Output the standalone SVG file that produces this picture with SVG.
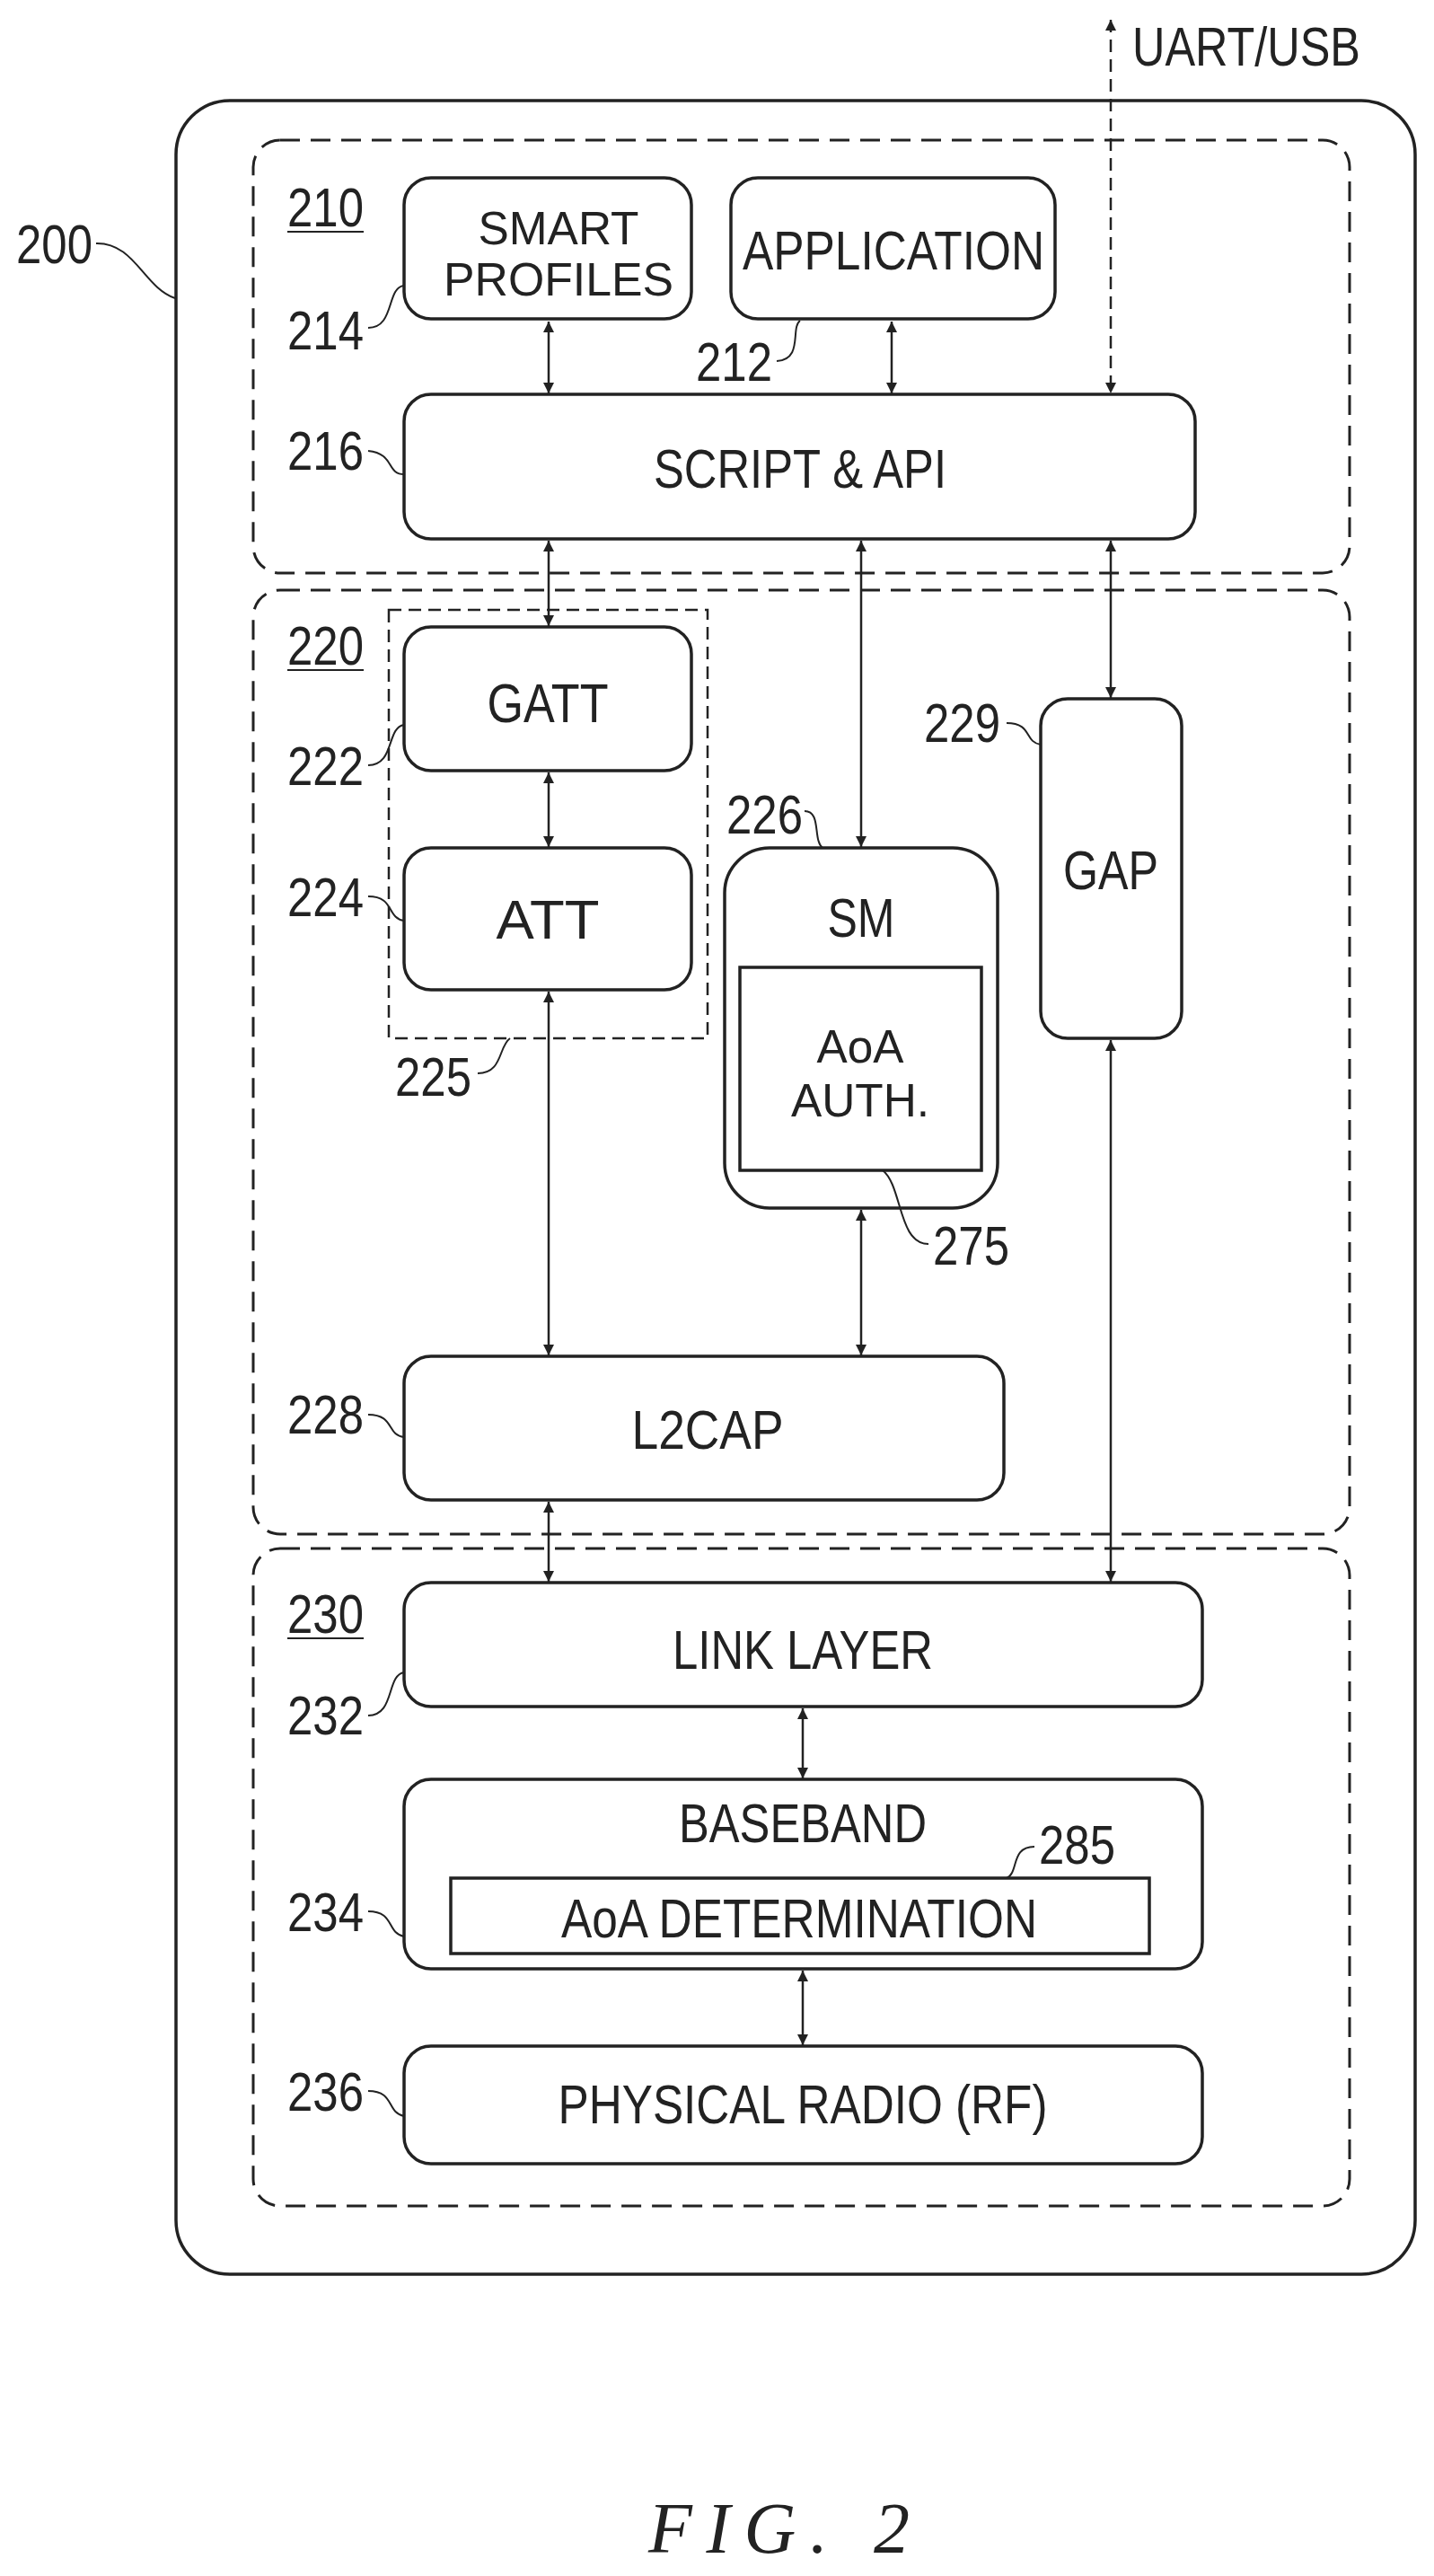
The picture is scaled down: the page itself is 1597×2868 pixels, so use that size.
<svg xmlns="http://www.w3.org/2000/svg" width="1597" height="2868" viewBox="0 0 1597 2868">
<style>
.b{fill:none;stroke:#222;stroke-width:3.5}
.d{fill:none;stroke:#222;stroke-width:3;stroke-dasharray:22 12}
.d2{fill:none;stroke:#222;stroke-width:2.5;stroke-dasharray:14 8}
.l{fill:none;stroke:#222;stroke-width:2}
.c{stroke:#222;stroke-width:2.5;fill:none;marker-start:url(#a);marker-end:url(#a)}
text{font-family:"Liberation Sans",Arial,sans-serif;font-size:62px;fill:#222}
.m{text-anchor:middle}
.s{font-size:52px}
</style>
<defs>
<marker id="a" viewBox="0 0 10 10" refX="10" refY="5" markerWidth="16" markerHeight="12" orient="auto-start-reverse" markerUnits="userSpaceOnUse"><path d="M0,0 L10,5 L0,10 Z" fill="#222"/></marker>
</defs>
<rect width="1597" height="2868" fill="#fff"/>
<g id="n200"><rect class="b" x="196" y="112" width="1380" height="2420" rx="60"/><text x="18" y="293" textLength="85" lengthAdjust="spacingAndGlyphs">200</text><path class="l" d="M107,271 C150,270 160,320 195,332"/></g>
<g id="n210"><rect class="d" x="282" y="156" width="1221" height="482" rx="30"/><text x="320" y="252" textLength="85" lengthAdjust="spacingAndGlyphs">210</text><line class="l" x1="320" y1="258" x2="405" y2="258"/></g>
<g id="n214"><rect class="b" x="450" y="198" width="320" height="157" rx="30"/><text class="m s" x="622" y="272" textLength="179" lengthAdjust="spacingAndGlyphs">SMART</text><text class="m s" x="622" y="329" textLength="256" lengthAdjust="spacingAndGlyphs">PROFILES</text><text x="320" y="389" textLength="85" lengthAdjust="spacingAndGlyphs">214</text><path class="l" d="M410,365 C440,365 430,320 450,318"/></g>
<g id="n212"><rect class="b" x="814" y="198" width="361" height="157" rx="30"/><text class="m" x="995" y="300" textLength="336" lengthAdjust="spacingAndGlyphs">APPLICATION</text><text x="775" y="424" textLength="85" lengthAdjust="spacingAndGlyphs">212</text><path class="l" d="M865,402 C895,400 880,365 891,357"/></g>
<g id="n216"><rect class="b" x="450" y="439" width="881" height="161" rx="30"/><text class="m" x="891" y="543" textLength="326" lengthAdjust="spacingAndGlyphs">SCRIPT &amp; API</text><text x="320" y="523" textLength="85" lengthAdjust="spacingAndGlyphs">216</text><path class="l" d="M410,502 C440,505 430,528 450,528"/></g>
<g id="n220"><rect class="d" x="282" y="657" width="1221" height="1051" rx="30"/><text x="320" y="740" textLength="85" lengthAdjust="spacingAndGlyphs">220</text><line class="l" x1="320" y1="746" x2="405" y2="746"/></g>
<g id="n225"><rect class="d2" x="433" y="679" width="355" height="477"/><text x="440" y="1220" textLength="85" lengthAdjust="spacingAndGlyphs">225</text><path class="l" d="M532,1195 C560,1195 555,1165 568,1156"/></g>
<g id="n222"><rect class="b" x="450" y="698" width="320" height="160" rx="30"/><text class="m" x="610" y="804" textLength="135" lengthAdjust="spacingAndGlyphs">GATT</text><text x="320" y="874" textLength="85" lengthAdjust="spacingAndGlyphs">222</text><path class="l" d="M410,852 C440,852 430,810 450,807"/></g>
<g id="n224"><rect class="b" x="450" y="944" width="320" height="158" rx="30"/><text class="m" x="610" y="1045" textLength="115" lengthAdjust="spacingAndGlyphs">ATT</text><text x="320" y="1020" textLength="85" lengthAdjust="spacingAndGlyphs">224</text><path class="l" d="M410,998 C440,998 430,1022 450,1025"/></g>
<g id="n226"><rect class="b" x="807" y="944" width="304" height="401" rx="50"/><text class="m" x="959" y="1043" textLength="75" lengthAdjust="spacingAndGlyphs">SM</text><text x="809" y="928" textLength="85" lengthAdjust="spacingAndGlyphs">226</text><path class="l" d="M896,903 C915,903 905,935 916,944"/></g>
<g id="n275"><rect class="b" x="824" y="1077" width="269" height="226"/><text class="m s" x="958" y="1183" textLength="97" lengthAdjust="spacingAndGlyphs">AoA</text><text class="m s" x="958" y="1243" textLength="154" lengthAdjust="spacingAndGlyphs">AUTH.</text><text x="1039" y="1408" textLength="85" lengthAdjust="spacingAndGlyphs">275</text><path class="l" d="M1034,1385 C1000,1385 1005,1320 983,1303"/></g>
<g id="n229"><rect class="b" x="1159" y="778" width="157" height="378" rx="30"/><text class="m" x="1237" y="990" textLength="106" lengthAdjust="spacingAndGlyphs">GAP</text><text x="1029" y="826" textLength="85" lengthAdjust="spacingAndGlyphs">229</text><path class="l" d="M1121,805 C1150,805 1140,826 1159,829"/></g>
<g id="n228"><rect class="b" x="450" y="1510" width="668" height="160" rx="30"/><text class="m" x="788" y="1613" textLength="169" lengthAdjust="spacingAndGlyphs">L2CAP</text><text x="320" y="1596" textLength="85" lengthAdjust="spacingAndGlyphs">228</text><path class="l" d="M410,1575 C440,1575 430,1598 450,1600"/></g>
<g id="n230"><rect class="d" x="282" y="1724" width="1221" height="732" rx="30"/><text x="320" y="1818" textLength="85" lengthAdjust="spacingAndGlyphs">230</text><line class="l" x1="320" y1="1824" x2="405" y2="1824"/></g>
<g id="n232"><rect class="b" x="450" y="1762" width="889" height="138" rx="30"/><text class="m" x="894" y="1858" textLength="290" lengthAdjust="spacingAndGlyphs">LINK LAYER</text><text x="320" y="1931" textLength="85" lengthAdjust="spacingAndGlyphs">232</text><path class="l" d="M410,1910 C440,1910 430,1865 450,1862"/></g>
<g id="n234"><rect class="b" x="450" y="1981" width="889" height="211" rx="30"/><text class="m" x="894" y="2051" textLength="276" lengthAdjust="spacingAndGlyphs">BASEBAND</text><text x="320" y="2150" textLength="85" lengthAdjust="spacingAndGlyphs">234</text><path class="l" d="M410,2128 C440,2128 430,2152 450,2156"/></g>
<g id="n285"><rect class="b" x="502" y="2091" width="778" height="84"/><text class="m" x="890" y="2157" textLength="530" lengthAdjust="spacingAndGlyphs">AoA DETERMINATION</text><text x="1157" y="2075" textLength="85" lengthAdjust="spacingAndGlyphs">285</text><path class="l" d="M1152,2056 C1125,2056 1135,2085 1121,2091"/></g>
<g id="n236"><rect class="b" x="450" y="2278" width="889" height="131" rx="30"/><text class="m" x="894" y="2364" textLength="545" lengthAdjust="spacingAndGlyphs">PHYSICAL RADIO (RF)</text><text x="320" y="2350" textLength="85" lengthAdjust="spacingAndGlyphs">236</text><path class="l" d="M410,2328 C440,2328 430,2352 450,2356"/></g>
<g id="connectors">
<line class="c" x1="611" y1="358" x2="611" y2="438"/>
<line class="c" x1="993" y1="358" x2="993" y2="438"/>
<line class="c" x1="1237" y1="22" x2="1237" y2="438" style="stroke-dasharray:14 8"/>
<line class="c" x1="611" y1="602" x2="611" y2="697"/>
<line class="c" x1="959" y1="602" x2="959" y2="943"/>
<line class="c" x1="1237" y1="602" x2="1237" y2="777"/>
<line class="c" x1="611" y1="860" x2="611" y2="943"/>
<line class="c" x1="611" y1="1104" x2="611" y2="1509"/>
<line class="c" x1="959" y1="1347" x2="959" y2="1509"/>
<line class="c" x1="1237" y1="1158" x2="1237" y2="1761"/>
<line class="c" x1="611" y1="1672" x2="611" y2="1761"/>
<line class="c" x1="894" y1="1902" x2="894" y2="1980"/>
<line class="c" x1="894" y1="2194" x2="894" y2="2277"/>
</g>
<text x="1261" y="73" textLength="254" lengthAdjust="spacingAndGlyphs">UART/USB</text>
<text x="722" y="2842" style="font-family:'Liberation Serif',serif;font-style:italic;font-size:80px" textLength="291" lengthAdjust="spacing">FIG.  2</text>
</svg>
